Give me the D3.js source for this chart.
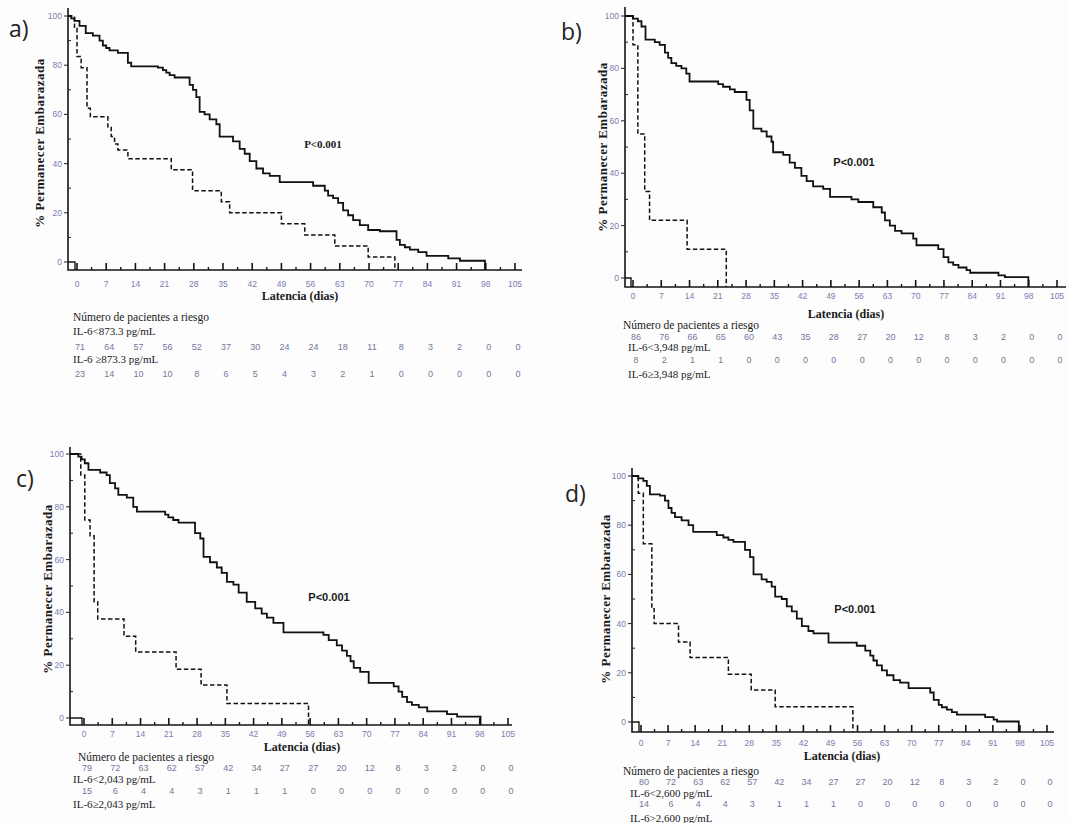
<!DOCTYPE html>
<html>
<head>
<meta charset="utf-8">
<script src="https://cdn.jsdelivr.net/npm/d3@7"></script>
<style>
  body { margin: 0; background: #fdfdfd; }
  svg { display: block; }
  .tick-lbl { font-family: "Liberation Sans", Arial, sans-serif; font-size: 8.5px; fill: #7c7cb0; }
  .risk-num { font-family: "Liberation Sans", Arial, sans-serif; font-size: 9px; fill: #76769c; }
  .serif { font-family: "Liberation Serif", "Times New Roman", serif; fill: #1a1a1a; }
  .tag { font-family: "Open Sans", "Liberation Sans", sans-serif; font-size: 23px; fill: #222; }
</style>
</head>
<body>
<svg width="1067" height="823"></svg>
<script>
// =============================================================================
// Data
// =============================================================================
const xTickValues = d3.range(0, 106, 7);
const yTickValues = [0, 20, 40, 60, 80, 100];

// step points [day, % still pregnant]; every curve starts at 100 on the y axis
const survA_low = [[-1.4,99],[-0.6,98],[0.6,96],[2.1,93],[3.8,92],[5.4,90],[6.2,88],[7,87],[7.8,86],[9.8,85],[12.2,81],[13,79.5],[19.4,79],[20.6,78],[21.4,77],[22.2,76],[23.4,75],[27,72],[27.8,70],[28.6,67],[29.4,61],[30.6,60],[31.8,58],[33.4,56],[34.2,51],[37.4,49],[39,46],[40.2,44],[41.4,41],[43,38],[44.6,36],[46.2,35],[48.6,32.5],[56.6,31],[59.4,29],[60.2,27],[61.4,26],[62.6,24],[63.8,21],[65,19],[66.2,17],[67.8,15],[69.8,13],[72.6,12.5],[76.6,9],[77.4,7],[78.6,6],[79.8,5],[81.8,4],[83.8,2.5],[89,1.5],[91.8,0.5],[97.8,0]];
const survA_high = [[-0.6,95],[0,83.5],[1,79],[2.4,62.5],[3.2,59],[7.4,55],[8.2,51],[9,48],[9.8,45.5],[12.2,42],[22.6,37.5],[27.7,29],[34.6,24.5],[36.6,20],[49,15.5],[54.6,11],[61.8,6.5],[69.8,2],[76.2,0]];

const survB_low = [[0,99],[1.2,98],[2.1,96],[3.1,91],[5.4,90],[6.6,89],[7.9,86],[8.7,84],[9.5,82],[10.7,81],[12,80],[13.2,78],[14,75],[21.1,74],[22.3,73],[24,72],[25.2,71],[28.1,68],[28.9,64],[29.8,57],[31.8,56],[33.1,54],[34.3,52],[34.7,48],[37.2,47],[38.8,44],[40.1,42],[41.7,39],[43,37],[44.6,35],[47.1,34],[48.8,31],[54.1,30],[55.8,29],[59.5,27],[61.6,25],[62.4,22],[63.6,20],[64.9,18],[66.5,17],[69.4,15],[70.2,12.5],[75.6,11],[76.9,8],[78.1,6],[79.3,5],[80.6,4],[82.6,3],[83.5,2],[90.5,1],[92.1,0.3],[97.9,0]];
const survB_high = [[0,89],[1.2,55],[2.9,33],[4.1,22],[13.4,11],[23.1,0]];

const survC_low = [[-1.4,99],[-0.6,98],[0.2,96.5],[1.1,94],[4,93],[5.6,92],[6.4,89],[7.7,87],[8.5,84.5],[10.6,83.5],[12.2,80],[13.1,78.2],[20.1,77],[20.9,76],[22.1,75],[23.4,74],[27.5,70],[28.8,68],[29.6,61],[31.2,59],[32.9,57],[34.1,55],[35.4,51.6],[37,50.5],[38.3,47.5],[40.3,44],[42.4,41.5],[44,39.5],[45.3,38],[46.9,36],[49.4,32.4],[59.3,31.5],[60.6,29.5],[62.6,27.5],[63.9,25.5],[65.1,23.5],[66,21.5],[66.8,19],[68.4,17.5],[70.5,13.3],[76.7,12],[77.9,10],[78.8,8],[80,6],[81.2,5],[82.9,4],[85,2.5],[89.9,1.5],[92.4,0.5],[98.2,0]];
const survC_high = [[-0.8,92],[0.2,75],[1.5,69],[2.5,44],[3.4,37.5],[9.9,31],[12.8,25],[22.8,18.5],[29,12.5],[35.4,5.5],[55.6,0]];

const survD_low = [[-0.7,99],[0.6,98],[1.5,96],[2.3,92.5],[4.9,92],[6.2,90],[7.1,87],[7.9,85],[8.8,83.3],[10.5,82],[12.3,80],[13.5,77.3],[19.6,76],[21.3,75],[22.6,74],[23.9,73.2],[26.9,70],[28.2,67],[29.1,60],[31.2,58],[32.5,57],[33.8,55],[34.7,51],[36.4,50],[37.7,47],[39,45],[40.3,42],[41.6,39],[43.3,37],[44.6,36],[48.5,32.3],[55.8,31],[58,29],[59.3,27],[60.1,25],[61,23],[62.3,21],[63.6,19],[65.3,17],[67,16],[69.2,13.8],[74.8,12],[75.7,9],[77,7],[77.8,6],[79.1,5],[80.4,4],[81.7,3],[89,2],[91.2,1],[92.1,0.2],[97.7,0]];
const survD_high = [[-0.7,93],[0.6,72.5],[2.8,46],[3.4,40],[9.7,32.5],[12.7,26.2],[22.6,19.4],[28.5,13],[34.7,6.2],[54.8,0]];

// numbers at risk, one per x tick
const riskA_low = [71,64,57,56,52,37,30,24,24,18,11,8,3,2,0,0];
const riskA_high = [23,14,10,10,8,6,5,4,3,2,1,0,0,0,0,0];
const riskB_low = [86,76,66,65,60,43,35,28,27,20,12,8,3,2,0,0];
const riskB_high = [8,2,1,1,0,0,0,0,0,0,0,0,0,0,0,0];
const riskC_low = [79,72,63,62,57,42,34,27,27,20,12,8,3,2,0,0];
const riskC_high = [15,6,4,4,3,1,1,1,0,0,0,0,0,0,0,0];
const riskD_low = [80,72,63,62,57,42,34,27,27,20,12,8,3,2,0,0];
const riskD_high = [14,6,4,4,3,1,1,1,0,0,0,0,0,0,0,0];

const panelTags = ["a)", "b)", "c)", "d)"];
const groupLow = ["IL-6<873.3 pg/mL", "IL-6<3,948 pg/mL", "IL-6<2,043 pg/mL", "IL-6<2,600 pg/mL"];
const groupHigh = ["IL-6 \u2265873.3 pg/mL", "IL-6\u22653,948 pg/mL", "IL-6\u22652,043 pg/mL", "IL-6>2,600 pg/mL"];
const pText = "P<0.001";

// =============================================================================
// Layout of the four panels (pixels)
// =============================================================================
const layouts = [
  { ax: 68, top: 8, x0: 77, x105: 515, xEnd: 522, y100: 16, y0: 262, axisY: 270,
    tag: [9, 37], yTitle: [39, 143], p: [323, 148], pSerif: true,
    tickY: 287, xTitle: [300, 300], tableX: 73, labX: 73,
    rows: { head: 321, lab1: 335, num1: 350, lab2: 363, num2: 377 } },
  { ax: 625, top: 7, x0: 633, x105: 1057, xEnd: 1066, y100: 16, y0: 278, axisY: 287,
    tag: [561, 40], yTitle: [602, 147], p: [854, 166], pSerif: false,
    tickY: 299, xTitle: [846, 318], tableX: 623, labX: 628,
    rows: { head: 329, num1: 340, lab1: 351, num2: 363, lab2: 378 } },
  { ax: 70, top: 447, x0: 84, x105: 508, xEnd: 512, y100: 454, y0: 718, axisY: 725,
    tag: [16, 487], yTitle: [47, 589], p: [329, 601], pSerif: false,
    tickY: 737, xTitle: [302, 751], tableX: 78, labX: 73,
    rows: { head: 761, num1: 771, lab1: 783, num2: 794, lab2: 808 } },
  { ax: 632, top: 468, x0: 641, x105: 1047, xEnd: 1054, y100: 476, y0: 722, axisY: 732,
    tag: [565, 502], yTitle: [605, 599], p: [855, 613], pSerif: false,
    tickY: 746, xTitle: [842, 760], tableX: 623, labX: 630,
    rows: { head: 775, num1: 785, lab1: 797, num2: 807, lab2: 822 } }
];

const curves = [
  [survA_low, survA_high], [survB_low, survB_high], [survC_low, survC_high], [survD_low, survD_high]
];
const risks = [
  [riskA_low, riskA_high], [riskB_low, riskB_high], [riskC_low, riskC_high], [riskD_low, riskD_high]
];

const svg = d3.select("svg");

// =============================================================================
// Draw one Kaplan-Meier panel
// =============================================================================
function drawPanel(i) {
  const L = layouts[i];
  const x = d3.scaleLinear().domain([0, 105]).range([L.x0, L.x105]);
  const y = d3.scaleLinear().domain([0, 100]).range([L.y0, L.y100]);
  const g = svg.append("g").attr("class", "panel");

  // axes lines
  g.append("path")
    .attr("d", `M${L.ax},${L.top}V${L.axisY}H${L.xEnd}`)
    .attr("fill", "none").attr("stroke", "#151515").attr("stroke-width", 1.6);

  // y ticks: majors outward, minors inward
  g.selectAll(".ymaj").data(yTickValues).enter().append("line")
    .attr("x1", L.ax - 4).attr("x2", L.ax).attr("y1", (d) => y(d)).attr("y2", (d) => y(d))
    .attr("stroke", "#222").attr("stroke-width", 1);
  g.selectAll(".ymin").data(d3.range(10, 100, 20)).enter().append("line")
    .attr("x1", L.ax).attr("x2", L.ax + 3).attr("y1", (d) => y(d)).attr("y2", (d) => y(d))
    .attr("stroke", "#222").attr("stroke-width", 1);
  g.selectAll(".ylbl").data(yTickValues).enter().append("text")
    .attr("class", "tick-lbl").attr("text-anchor", "end")
    .attr("x", L.ax - 6).attr("y", (d) => y(d) + 3).text((d) => d);

  // x ticks: majors every 7 days, minors in between, pointing up
  g.selectAll(".xmaj").data(xTickValues).enter().append("line")
    .attr("x1", (d) => x(d)).attr("x2", (d) => x(d)).attr("y1", L.axisY).attr("y2", L.axisY - 7)
    .attr("stroke", "#151515").attr("stroke-width", 1.6);
  g.selectAll(".xmin").data(xTickValues.map((d) => d + 3.5).filter((d) => d < 105)).enter().append("line")
    .attr("x1", (d) => x(d)).attr("x2", (d) => x(d)).attr("y1", L.axisY).attr("y2", L.axisY - 3)
    .attr("stroke", "#151515").attr("stroke-width", 1.4);
  g.selectAll(".xlbl").data(xTickValues).enter().append("text")
    .attr("class", "tick-lbl").attr("text-anchor", "middle")
    .attr("x", (d) => x(d)).attr("y", L.tickY).text((d) => d);

  // little hook at the origin
  g.append("path")
    .attr("d", `M${L.ax},${y(0)}H${x(0) - 2}V${L.axisY}`)
    .attr("fill", "none").attr("stroke", "#151515").attr("stroke-width", 1.4);

  // survival curves
  const line = d3.line().x((d) => x(d[0])).y((d) => y(d[1])).curve(d3.curveStepAfter);
  const start = [x.invert(L.ax), 100];
  curves[i].forEach((series, k) => {
    g.append("path")
      .attr("d", line([start].concat(series)) + `V${L.axisY}`)
      .attr("fill", "none")
      .attr("stroke", "#111")
      .attr("stroke-width", k === 0 ? 1.8 : 1.5)
      .attr("stroke-dasharray", k === 0 ? null : "4.5,2.5");
  });

  // titles
  g.append("text").attr("class", "tag").attr("x", L.tag[0]).attr("y", L.tag[1]).text(panelTags[i]);

  g.append("text").attr("class", "serif")
    .attr("transform", `translate(${L.yTitle[0]},${L.yTitle[1]}) rotate(-90)`)
    .attr("text-anchor", "middle").attr("dy", "0.35em")
    .style("font-size", "13px").style("font-weight", "bold").style("letter-spacing", "0.5px")
    .text("% Permanecer Embarazada");

  g.append("text")
    .attr("x", L.p[0]).attr("y", L.p[1]).attr("text-anchor", "middle")
    .style("font-family", L.pSerif ? '"Liberation Serif", serif' : '"Liberation Sans", sans-serif')
    .style("font-size", "11px").style("font-weight", "bold").style("fill", "#1a1a1a")
    .text(pText);

  g.append("text").attr("class", "serif")
    .attr("x", L.xTitle[0]).attr("y", L.xTitle[1]).attr("text-anchor", "middle")
    .style("font-size", "12px").style("font-weight", "bold")
    .text("Latencia (dias)");

  // number-at-risk table
  g.append("text").attr("class", "serif").attr("x", L.tableX).attr("y", L.rows.head)
    .style("font-size", "11.5px").text("N\u00famero de pacientes a riesgo");
  g.append("text").attr("class", "serif").attr("x", L.labX).attr("y", L.rows.lab1)
    .style("font-size", "11px").text(groupLow[i]);
  g.append("text").attr("class", "serif").attr("x", L.labX).attr("y", L.rows.lab2)
    .style("font-size", "11px").text(groupHigh[i]);

  [L.rows.num1, L.rows.num2].forEach((rowY, k) => {
    g.selectAll(null).data(risks[i][k]).enter().append("text")
      .attr("class", "risk-num").attr("text-anchor", "middle")
      .attr("x", (d, j) => x(xTickValues[j]) + 3)
      .attr("y", rowY)
      .text((d) => d);
  });
}

layouts.forEach((L, i) => drawPanel(i));
</script>
</body>
</html>
